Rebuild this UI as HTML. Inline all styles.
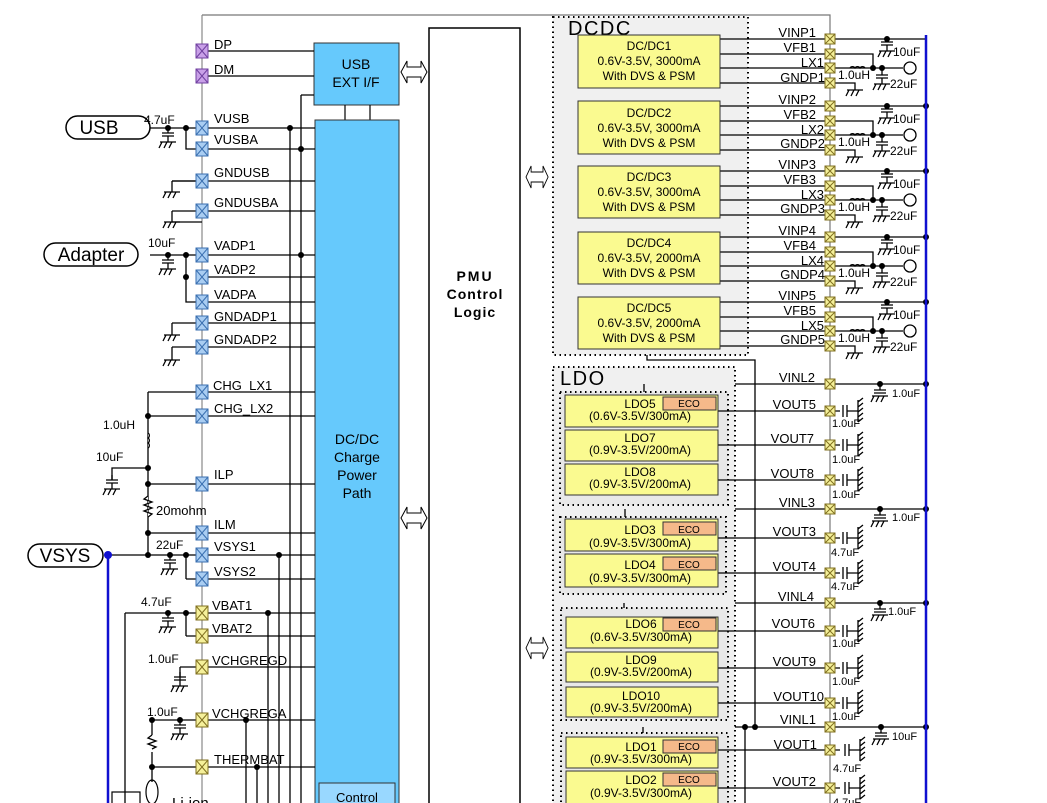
<!DOCTYPE html>
<html><head><meta charset="utf-8"><style>
html,body{margin:0;padding:0;background:#fff;}
svg{display:block;font-family:"Liberation Sans",Arial,sans-serif;}
</style></head><body>
<svg width="1047" height="803" viewBox="0 0 1047 803" xmlns="http://www.w3.org/2000/svg">
<defs>
<g id="pb"><rect x="-6" y="-7" width="12" height="14" fill="#a9cdf2" stroke="#3a6fb0" stroke-width="1"/><path d="M-6,-7L6,7M6,-7L-6,7" stroke="#3a6fb0" stroke-width="1"/></g>
<g id="pp"><rect x="-6" y="-7" width="12" height="14" fill="#c9a0e8" stroke="#7040a0" stroke-width="1"/><path d="M-6,-7L6,7M6,-7L-6,7" stroke="#7040a0" stroke-width="1"/></g>
<g id="py"><rect x="-6" y="-7" width="12" height="14" fill="#f5f09a" stroke="#807020" stroke-width="1"/><path d="M-6,-7L6,7M6,-7L-6,7" stroke="#807020" stroke-width="1"/></g>
<g id="pr"><rect x="-5" y="-5" width="10" height="10" fill="#f5f09a" stroke="#807020" stroke-width="1"/><path d="M-5,-5L5,5M5,-5L-5,5" stroke="#807020" stroke-width="1"/></g>
<g id="gnd" stroke="#000" stroke-width="1.3" fill="none"><path d="M-8,0H8M-6,0L-9,6M-1,0L-4,6M4,0L1,6"/></g>
<g id="cap" stroke="#000" stroke-width="1.3" fill="none"><path d="M0,0V5M-6,5H6M-6,8H6M0,8V14"/><use href="#gnd" y="14"/></g>
<g id="vcap" stroke="#000" stroke-width="1.3" fill="none"><path d="M-2,-6V6M2,-6V6M2,0H13M13,-11V11M13,-9L18,-13M13,-4L18,-8M13,1L18,-3M13,6L18,2M13,11L18,7"/></g>
<g id="dar" fill="#fff" stroke="#000" stroke-width="1"><path d="M0,0L6,-11V-5H20V-11L26,0L20,11V5H6V11Z"/></g>
<g id="ind" stroke="#000" stroke-width="1.2" fill="none"><path d="M0,0a3,3 0 0 1 5,0a3,3 0 0 1 5,0a3,3 0 0 1 5,0"/></g>
</defs>

<!-- chip outline -->
<path d="M202,15H830V803" stroke="#777" stroke-width="1.2" fill="none"/>
<path d="M202,15V803" stroke="#888" stroke-width="1.2"/>

<!-- USB EXT and charger -->
<rect x="314" y="43" width="85" height="62" fill="#66c9fc" stroke="#333" stroke-width="1"/>
<text x="356" y="69" font-size="14" text-anchor="middle">USB</text>
<text x="356" y="87" font-size="14" text-anchor="middle">EXT I/F</text>
<path d="M345,105V120M370,105V120" stroke="#000" stroke-width="1.2"/>
<rect x="315" y="120" width="84" height="690" fill="#66c9fc" stroke="#333" stroke-width="1"/>
<text x="357" y="444" font-size="14" text-anchor="middle">DC/DC</text>
<text x="357" y="462" font-size="14" text-anchor="middle">Charge</text>
<text x="357" y="480" font-size="14" text-anchor="middle">Power</text>
<text x="357" y="498" font-size="14" text-anchor="middle">Path</text>
<rect x="319" y="783" width="76" height="30" fill="#99d8ff" stroke="#333" stroke-width="1"/>
<text x="357" y="802" font-size="13" text-anchor="middle">Control</text>

<!-- PMU -->
<rect x="429" y="28" width="91" height="790" fill="#fff" stroke="#000" stroke-width="1.5"/>
<text x="475" y="281" font-size="14" font-weight="bold" text-anchor="middle" letter-spacing="2">PMU</text>
<text x="475" y="299" font-size="14" font-weight="bold" text-anchor="middle" letter-spacing="1">Control</text>
<text x="475" y="317" font-size="14" font-weight="bold" text-anchor="middle" letter-spacing="1">Logic</text>
<use href="#dar" x="401" y="72"/><use href="#dar" x="401" y="518"/>
<use href="#dar" x="526" y="177" transform="translate(526,177) scale(0.85,1) translate(-526,-177)"/>
<use href="#dar" x="526" y="648" transform="translate(526,648) scale(0.85,1) translate(-526,-648)"/>

<!-- left pin wires -->
<g stroke="#000" stroke-width="1.3" fill="none">
<path d="M202,51H314M202,76H314M202,128H315M202,149H315M202,181H315M202,211H315M202,255H315M202,277H315M202,302H315M202,323H315M202,347H315M148,392H315M148,416H315M148,484H315M148,533H315M108,555H315M186,579H315M125,613H315M186,636H315M180,667H315M152,720H315M152,767H315"/>
<path d="M290,128V803M301,95H314M301,95V803M279,555V803M268,613V803M246,720V803M257,767V803"/>
<!-- USB -->
<path d="M150,128H202M186,128V149H202M150,255H202M186,255V302H202"/>
<path d="M172,181H202M172,181V192M172,211V222H202" transform="translate(0,0)"/>
<path d="M172,323V335M172,347V360"/>
<path d="M148,392V555M148,468H112V480"/>
<path d="M186,555V579M125,613V803M186,613V636M180,667V680M152,720V735M152,752V767M152,767V782"/>
</g>
<g stroke="#000" stroke-width="1.3" fill="none">
<path d="M172,181H202M172,211H202M172,323H202M172,347H202"/>
</g>
<use href="#gnd" x="172" y="192"/><use href="#gnd" x="172" y="222"/>
<use href="#gnd" x="172" y="335"/><use href="#gnd" x="172" y="360"/>
<use href="#cap" x="168" y="128"/><use href="#cap" x="168" y="255"/>
<use href="#cap" x="112" y="480" transform="translate(0,-5)"/>
<use href="#cap" x="170" y="555"/><use href="#cap" x="168" y="613"/>
<use href="#cap" x="180" y="680" transform="translate(0,-8)"/>
<use href="#cap" x="180" y="720"/>
<!-- inductor vertical -->
<path d="M148,433a3,3 0 0 1 0,5a3,3 0 0 1 0,5a3,3 0 0 1 0,5" stroke="#000" stroke-width="1.3" fill="#fff" transform="translate(0,0)"/>
<!-- resistors -->
<path d="M148,496l-4,3l8,3l-8,3l8,3l-8,3l8,3l-4,3" stroke="#000" stroke-width="1.3" fill="#fff"/>
<path d="M152,735l-4,3l8,3l-8,3l8,3l-4,2" stroke="#000" stroke-width="1.3" fill="#fff"/>
<ellipse cx="152" cy="792" rx="6" ry="12" fill="none" stroke="#000" stroke-width="1.2"/>
<rect x="112" y="792" width="28" height="20" fill="none" stroke="#000" stroke-width="1.2"/>
<text x="172" y="808" font-size="15">Li-ion</text>
<!-- dots -->
<g fill="#000">
<circle cx="168" cy="128" r="3"/><circle cx="186" cy="128" r="3"/><circle cx="290" cy="128" r="3"/><circle cx="301" cy="149" r="3"/>
<circle cx="168" cy="255" r="3"/><circle cx="186" cy="255" r="3"/><circle cx="186" cy="277" r="3"/><circle cx="301" cy="255" r="3"/>
<circle cx="148" cy="416" r="3"/><circle cx="148" cy="468" r="3"/><circle cx="148" cy="484" r="3"/><circle cx="148" cy="533" r="3"/><circle cx="148" cy="555" r="3"/>
<circle cx="170" cy="555" r="3"/><circle cx="186" cy="555" r="3"/><circle cx="279" cy="555" r="3"/>
<circle cx="168" cy="613" r="3"/><circle cx="186" cy="613" r="3"/><circle cx="268" cy="613" r="3"/>
<circle cx="152" cy="720" r="3"/><circle cx="180" cy="720" r="3"/><circle cx="246" cy="720" r="3"/>
<circle cx="152" cy="767" r="3"/><circle cx="257" cy="767" r="3"/>
</g>
<path d="M108,555V803" stroke="#1010d0" stroke-width="2.5"/>
<circle cx="108" cy="555" r="4" fill="#1010d0"/>
<!-- ovals -->
<rect x="66" y="116" width="84" height="23" rx="11.5" fill="#fff" stroke="#000" stroke-width="1.5"/>
<text x="99" y="134" font-size="19" text-anchor="middle">USB</text>
<rect x="44" y="243" width="94" height="23" rx="11.5" fill="#fff" stroke="#000" stroke-width="1.5"/>
<text x="91" y="261" font-size="19" text-anchor="middle">Adapter</text>
<rect x="28" y="544" width="75" height="23" rx="11.5" fill="#fff" stroke="#000" stroke-width="1.5"/>
<text x="65" y="562" font-size="19" text-anchor="middle">VSYS</text>
<g font-size="12">
<text x="144" y="124">4.7uF</text><text x="148" y="247">10uF</text>
<text x="103" y="429">1.0uH</text><text x="96" y="461">10uF</text>
<text x="156" y="515" font-size="13">20mohm</text><text x="156" y="549">22uF</text>
<text x="141" y="606">4.7uF</text><text x="148" y="663">1.0uF</text><text x="147" y="716">1.0uF</text>
</g>
<!-- left pins -->
<use href="#pp" x="202" y="51"/><use href="#pp" x="202" y="76"/>
<use href="#pb" x="202" y="128"/><use href="#pb" x="202" y="149"/><use href="#pb" x="202" y="181"/><use href="#pb" x="202" y="211"/>
<use href="#pb" x="202" y="255"/><use href="#pb" x="202" y="277"/><use href="#pb" x="202" y="302"/><use href="#pb" x="202" y="323"/><use href="#pb" x="202" y="347"/>
<use href="#pb" x="202" y="392"/><use href="#pb" x="202" y="416"/><use href="#pb" x="202" y="484"/><use href="#pb" x="202" y="533"/><use href="#pb" x="202" y="555"/><use href="#pb" x="202" y="579"/>
<use href="#py" x="202" y="613"/><use href="#py" x="202" y="636"/><use href="#py" x="202" y="667"/><use href="#py" x="202" y="720"/><use href="#py" x="202" y="767"/>
<g font-size="13">
<text x="214" y="49">DP</text><text x="214" y="74">DM</text>
<text x="214" y="123">VUSB</text><text x="214" y="144">VUSBA</text><text x="214" y="177">GNDUSB</text><text x="214" y="207">GNDUSBA</text>
<text x="214" y="250">VADP1</text><text x="214" y="274">VADP2</text><text x="214" y="299">VADPA</text><text x="214" y="321">GNDADP1</text><text x="214" y="344">GNDADP2</text>
<text x="213" y="390">CHG_LX1</text><text x="214" y="413">CHG_LX2</text><text x="214" y="479">ILP</text><text x="214" y="529">ILM</text>
<text x="214" y="551">VSYS1</text><text x="214" y="576">VSYS2</text><text x="212" y="610">VBAT1</text><text x="212" y="633">VBAT2</text>
<text x="212" y="665">VCHGREGD</text><text x="212" y="718">VCHGREGA</text><text x="214" y="764">THERMBAT</text>
</g>

<!-- DCDC region -->
<rect x="553" y="17" width="195" height="338" fill="#f0f0f0" stroke="#000" stroke-width="2" stroke-dasharray="1.5,3.5"/>
<text x="568" y="35" font-size="20" letter-spacing="1.5">DCDC</text>
<g stroke="#000" stroke-width="1.3" fill="none">
<path d="M647,355V360H755V727M745,727V803M644,392V384H830M625,517V509H830M624,608V603H830M643,733V727H926M745,727H755"/>
</g>
<g fill="#000"><circle cx="745" cy="727" r="3"/><circle cx="755" cy="727" r="3"/></g>

<g id="dc">
</g>
<!-- DC/DC groups -->
<g stroke="#000" stroke-width="1.3" fill="none">
<path d="M720,39H926M720,54H873V68M720,68H903M720,83H855V90"/>
<path d="M720,106H926M720,121H873V135M720,135H903M720,150H855V157"/>
<path d="M720,171H926M720,186H873V200M720,200H903M720,215H855V222"/>
<path d="M720,237H926M720,252H873V266M720,266H903M720,281H855V288"/>
<path d="M720,302H926M720,317H873V331M720,331H903M720,346H855V353"/>
</g>
<g fill="#000">
<circle cx="887" cy="39" r="3"/><circle cx="873" cy="68" r="3"/><circle cx="882" cy="68" r="3"/>
<circle cx="887" cy="106" r="3"/><circle cx="873" cy="135" r="3"/><circle cx="882" cy="135" r="3"/><circle cx="926" cy="106" r="3"/>
<circle cx="887" cy="171" r="3"/><circle cx="873" cy="200" r="3"/><circle cx="882" cy="200" r="3"/><circle cx="926" cy="171" r="3"/>
<circle cx="887" cy="237" r="3"/><circle cx="873" cy="266" r="3"/><circle cx="882" cy="266" r="3"/><circle cx="926" cy="237" r="3"/>
<circle cx="887" cy="302" r="3"/><circle cx="873" cy="331" r="3"/><circle cx="882" cy="331" r="3"/><circle cx="926" cy="302" r="3"/>
</g>
<g fill="#fff" stroke="#000" stroke-width="1.3">
<circle cx="910" cy="68" r="6"/><circle cx="910" cy="135" r="6"/><circle cx="910" cy="200" r="6"/><circle cx="910" cy="266" r="6"/><circle cx="910" cy="331" r="6"/>
</g>
<use href="#cap" x="887" y="39" transform="translate(0,-2)"/><use href="#cap" x="882" y="68" transform="translate(0,2)"/><use href="#gnd" x="855" y="90"/><use href="#ind" x="850" y="68"/>
<use href="#cap" x="887" y="106" transform="translate(0,-2)"/><use href="#cap" x="882" y="135" transform="translate(0,2)"/><use href="#gnd" x="855" y="157"/><use href="#ind" x="850" y="135"/>
<use href="#cap" x="887" y="171" transform="translate(0,-2)"/><use href="#cap" x="882" y="200" transform="translate(0,2)"/><use href="#gnd" x="855" y="222"/><use href="#ind" x="850" y="200"/>
<use href="#cap" x="887" y="237" transform="translate(0,-2)"/><use href="#cap" x="882" y="266" transform="translate(0,2)"/><use href="#gnd" x="855" y="288"/><use href="#ind" x="850" y="266"/>
<use href="#cap" x="887" y="302" transform="translate(0,-2)"/><use href="#cap" x="882" y="331" transform="translate(0,2)"/><use href="#gnd" x="855" y="353"/><use href="#ind" x="850" y="331"/>
<g font-size="12">
<text x="893" y="56">10uF</text><text x="838" y="79">1.0uH</text><text x="890" y="88">22uF</text>
<text x="893" y="123">10uF</text><text x="838" y="146">1.0uH</text><text x="890" y="155">22uF</text>
<text x="893" y="188">10uF</text><text x="838" y="211">1.0uH</text><text x="890" y="220">22uF</text>
<text x="893" y="254">10uF</text><text x="838" y="277">1.0uH</text><text x="890" y="286">22uF</text>
<text x="893" y="319">10uF</text><text x="838" y="342">1.0uH</text><text x="890" y="351">22uF</text>
</g>
<g fill="#fafa90" stroke="#333" stroke-width="1">
<rect x="578" y="35" width="142" height="53"/><rect x="578" y="101" width="142" height="53"/><rect x="578" y="166" width="142" height="52"/><rect x="578" y="232" width="142" height="52"/><rect x="578" y="297" width="142" height="52"/>
</g>
<g font-size="12" text-anchor="middle">
<text x="649" y="50">DC/DC1</text><text x="649" y="65">0.6V-3.5V, 3000mA</text><text x="649" y="80">With DVS &amp; PSM</text>
<text x="649" y="117">DC/DC2</text><text x="649" y="132">0.6V-3.5V, 3000mA</text><text x="649" y="147">With DVS &amp; PSM</text>
<text x="649" y="181">DC/DC3</text><text x="649" y="196">0.6V-3.5V, 3000mA</text><text x="649" y="211">With DVS &amp; PSM</text>
<text x="649" y="247">DC/DC4</text><text x="649" y="262">0.6V-3.5V, 2000mA</text><text x="649" y="277">With DVS &amp; PSM</text>
<text x="649" y="312">DC/DC5</text><text x="649" y="327">0.6V-3.5V, 2000mA</text><text x="649" y="342">With DVS &amp; PSM</text>
</g>
<g font-size="13" text-anchor="end">
<text x="816" y="37">VINP1</text><text x="816" y="52">VFB1</text><text x="824" y="67">LX1</text><text x="825" y="82">GNDP1</text>
<text x="816" y="104">VINP2</text><text x="816" y="119">VFB2</text><text x="824" y="134">LX2</text><text x="825" y="148">GNDP2</text>
<text x="816" y="169">VINP3</text><text x="816" y="184">VFB3</text><text x="824" y="199">LX3</text><text x="825" y="213">GNDP3</text>
<text x="816" y="235">VINP4</text><text x="816" y="250">VFB4</text><text x="824" y="265">LX4</text><text x="825" y="279">GNDP4</text>
<text x="816" y="300">VINP5</text><text x="816" y="315">VFB5</text><text x="824" y="330">LX5</text><text x="825" y="344">GNDP5</text>
</g>

<!-- LDO region -->
<rect x="553" y="367" width="182" height="450" fill="#f0f0f0" stroke="#000" stroke-width="2" stroke-dasharray="1.5,3.5"/>
<text x="560" y="385" font-size="20" letter-spacing="1.5">LDO</text>
<g fill="#e8e8e8" stroke="#000" stroke-width="2" stroke-dasharray="1.5,3.5">
<rect x="560" y="392" width="168" height="113"/><rect x="560" y="517" width="166" height="77"/><rect x="561" y="608" width="167" height="112"/><rect x="561" y="733" width="167" height="80"/>
</g>
<g stroke="#000" stroke-width="1.3" fill="none">
<path d="M644,392V384M625,517V509M624,608V603M643,733V727"/>
<path d="M718,411H840M718,445H840M718,480H840M718,538H840M718,573H840M718,631H840M718,668H840M718,703H840M718,750H840M718,788H840"/>
<path d="M830,384H926M830,509H926M830,603H926"/>
</g>
<g fill="#000">
<circle cx="880" cy="384" r="3"/><circle cx="926" cy="384" r="3"/><circle cx="880" cy="509" r="3"/><circle cx="926" cy="509" r="3"/>
<circle cx="880" cy="603" r="3"/><circle cx="926" cy="603" r="3"/><circle cx="881" cy="727" r="3"/><circle cx="926" cy="727" r="3"/>
</g>
<g stroke="#000" stroke-width="1.3" fill="none">
<path d="M880,384V390M874,390H886M874,393H886M880,509V515M874,515H886M874,518H886M880,603V609M874,609H886M874,612H886M881,727V733M875,733H887M875,736H887"/>
</g>
<use href="#gnd" x="880" y="396"/><use href="#gnd" x="880" y="521"/><use href="#gnd" x="880" y="615"/><use href="#gnd" x="881" y="739"/>
<use href="#vcap" x="845" y="411"/><use href="#vcap" x="845" y="445"/><use href="#vcap" x="845" y="480"/><use href="#vcap" x="845" y="538"/><use href="#vcap" x="845" y="573"/>
<use href="#vcap" x="845" y="631"/><use href="#vcap" x="845" y="668"/><use href="#vcap" x="845" y="703"/><use href="#vcap" x="847" y="750"/><use href="#vcap" x="847" y="788"/>
<path d="M926,35V803" stroke="#1010d0" stroke-width="2.5"/>
<g fill="#fafa90" stroke="#333" stroke-width="1">
<rect x="565" y="395" width="153" height="32"/><rect x="565" y="430" width="153" height="31"/><rect x="565" y="464" width="153" height="31"/>
<rect x="565" y="519" width="153" height="32"/><rect x="565" y="554" width="153" height="33"/>
<rect x="566" y="617" width="152" height="31"/><rect x="566" y="652" width="152" height="30"/><rect x="566" y="687" width="152" height="30"/>
<rect x="566" y="737" width="152" height="31"/><rect x="566" y="771" width="152" height="40"/>
</g>
<g fill="#f5b98a" stroke="#333" stroke-width="1">
<rect x="663" y="397" width="53" height="13"/><rect x="663" y="522" width="53" height="13"/><rect x="663" y="557" width="53" height="13"/>
<rect x="663" y="618" width="53" height="13"/><rect x="663" y="740" width="53" height="13"/><rect x="663" y="773" width="53" height="13"/>
</g>
<g font-size="10" text-anchor="middle">
<text x="689" y="407">ECO</text><text x="689" y="533">ECO</text><text x="689" y="568">ECO</text><text x="689" y="628">ECO</text><text x="689" y="750">ECO</text><text x="689" y="783">ECO</text>
</g>
<g font-size="12" text-anchor="middle">
<text x="640" y="408">LDO5</text><text x="640" y="420">(0.6V-3.5V/300mA)</text>
<text x="640" y="442">LDO7</text><text x="640" y="454">(0.9V-3.5V/200mA)</text>
<text x="640" y="476">LDO8</text><text x="640" y="488">(0.9V-3.5V/200mA)</text>
<text x="640" y="534">LDO3</text><text x="640" y="547">(0.9V-3.5V/300mA)</text>
<text x="640" y="569">LDO4</text><text x="640" y="582">(0.9V-3.5V/300mA)</text>
<text x="641" y="628">LDO6</text><text x="641" y="641">(0.6V-3.5V/300mA)</text>
<text x="641" y="664">LDO9</text><text x="641" y="676">(0.9V-3.5V/200mA)</text>
<text x="641" y="700">LDO10</text><text x="641" y="712">(0.9V-3.5V/200mA)</text>
<text x="641" y="751">LDO1</text><text x="641" y="763">(0.9V-3.5V/300mA)</text>
<text x="641" y="784">LDO2</text><text x="641" y="797">(0.9V-3.5V/300mA)</text>
</g>
<g font-size="13" text-anchor="end">
<text x="815" y="382">VINL2</text><text x="816" y="409">VOUT5</text><text x="814" y="443">VOUT7</text><text x="814" y="478">VOUT8</text>
<text x="815" y="507">VINL3</text><text x="816" y="536">VOUT3</text><text x="816" y="571">VOUT4</text><text x="814" y="601">VINL4</text>
<text x="815" y="628">VOUT6</text><text x="816" y="666">VOUT9</text><text x="824" y="701">VOUT10</text><text x="816" y="724">VINL1</text>
<text x="817" y="749">VOUT1</text><text x="816" y="786">VOUT2</text>
</g>
<g font-size="11">
<text x="892" y="397">1.0uF</text><text x="892" y="521">1.0uF</text><text x="888" y="615">1.0uF</text><text x="892" y="740">10uF</text>
<text x="832" y="427">1.0uF</text><text x="832" y="463">1.0uF</text><text x="832" y="498">1.0uF</text>
<text x="831" y="556">4.7uF</text><text x="831" y="590">4.7uF</text>
<text x="832" y="647">1.0uF</text><text x="832" y="685">1.0uF</text><text x="832" y="720">1.0uF</text>
<text x="833" y="772">4.7uF</text><text x="833" y="806">4.7uF</text>
</g>
<!-- right pins -->
<g>
<use href="#pr" x="830" y="39"/><use href="#pr" x="830" y="54"/><use href="#pr" x="830" y="68"/><use href="#pr" x="830" y="83"/>
<use href="#pr" x="830" y="106"/><use href="#pr" x="830" y="121"/><use href="#pr" x="830" y="135"/><use href="#pr" x="830" y="150"/>
<use href="#pr" x="830" y="171"/><use href="#pr" x="830" y="186"/><use href="#pr" x="830" y="200"/><use href="#pr" x="830" y="215"/>
<use href="#pr" x="830" y="237"/><use href="#pr" x="830" y="252"/><use href="#pr" x="830" y="266"/><use href="#pr" x="830" y="281"/>
<use href="#pr" x="830" y="302"/><use href="#pr" x="830" y="317"/><use href="#pr" x="830" y="331"/><use href="#pr" x="830" y="346"/>
<use href="#pr" x="830" y="384"/><use href="#pr" x="830" y="411"/><use href="#pr" x="830" y="445"/><use href="#pr" x="830" y="480"/>
<use href="#pr" x="830" y="509"/><use href="#pr" x="830" y="538"/><use href="#pr" x="830" y="573"/><use href="#pr" x="830" y="603"/>
<use href="#pr" x="830" y="631"/><use href="#pr" x="830" y="668"/><use href="#pr" x="830" y="703"/><use href="#pr" x="830" y="727"/>
<use href="#pr" x="830" y="750"/><use href="#pr" x="830" y="788"/>
</g>
</svg>
</body></html>
